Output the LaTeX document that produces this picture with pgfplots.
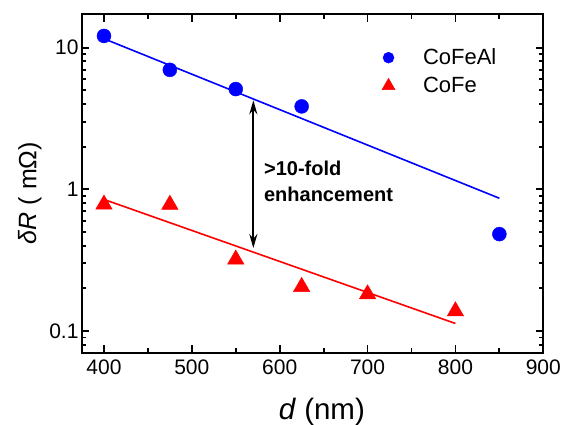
\documentclass[border=0pt]{standalone}
\usepackage{fontspec}
\setmainfont{Liberation Sans}
\usepackage{pgfplots}
\pgfplotsset{compat=1.18}
\usetikzlibrary{arrows.meta}

\begin{document}
\begin{tikzpicture}
\begin{axis}[
    scale only axis,
    width=461.3bp, height=338.2bp,
    ymode=log,
    xmin=375, xmax=900,
    ymin=0.0705, ymax=17.2,
    xtick={400,500,...,900},
    minor x tick num=1,
    log ticks with fixed point,
    tick align=inside,
    major tick length=7.5bp, minor tick length=4.3bp,
    tick style={black, line width=1.8bp},
    axis line style={line width=2bp},
    /pgf/number format/assume math mode=true,
    ticklabel style={font=\fontsize{21bp}{25bp}\selectfont},
    xticklabel style={yshift=-3.5bp},
    xlabel={\textit{d} (nm)},
    ylabel={\textit{δR} ( mΩ)},
    xlabel style={font=\fontsize{29.5bp}{34bp}\selectfont,
        at={(axis description cs:0.52,-0.198)}, anchor=base},
    ylabel style={font=\fontsize{25bp}{30bp}\selectfont,
        at={(axis description cs:-0.1127,0.4716)}, anchor=center},
    legend style={draw=none, fill=none, inner sep=0pt,
        column sep=26bp, row sep=7bp,
        font=\fontsize{22bp}{26bp}\selectfont,
        at={(axis description cs:0.65,0.904)}, anchor=north west},
    legend cell align=left,
    legend image code/.code={\draw[#1] plot coordinates {(8bp,0bp)};},
]
% legend entries (smaller marks than in the plot)
\addlegendimage{only marks, mark=*, blue, mark size=5.5bp}
\addlegendentry{CoFeAl}
\addlegendimage{only marks, mark=triangle*, red, mark size=7.5bp}
\addlegendentry{CoFe}

% exponential fits (straight on log axis)
\addplot[blue, line width=1.6bp, forget plot] coordinates {(404,11.3) (850,0.865)};
\addplot[red, line width=1.6bp, forget plot] coordinates {(402,0.84) (800,0.113)};

% CoFeAl
\addplot[only marks, mark=*, blue, mark size=7bp, forget plot] coordinates {
    (400,12.1) (475,6.97) (550,5.1) (625,3.85) (850,0.483)
};
% CoFe
\addplot[only marks, mark=triangle*, red, mark size=9.5bp, forget plot] coordinates {
    (400,0.782) (475,0.78) (550,0.32) (625,0.205) (700,0.182) (800,0.138)
};

\draw[{Stealth[length=14bp,width=8bp]}-{Stealth[length=14bp,width=8bp]}, line width=2bp]
    (axis cs:570,4.25) -- (axis cs:570,0.385);
\node[anchor=base west, inner sep=0pt, font=\fontsize{20bp}{24bp}\selectfont\bfseries]
    at (axis cs:582,1.26) {>10-fold};
\node[anchor=base west, inner sep=0pt, font=\fontsize{20bp}{24bp}\selectfont\bfseries]
    at (axis cs:582,0.819) {enhancement};
\end{axis}
\pgfresetboundingbox
\path[use as bounding box] (-82bp,-72.5bp) rectangle (489bp,352.5bp);
\end{tikzpicture}
\end{document}
